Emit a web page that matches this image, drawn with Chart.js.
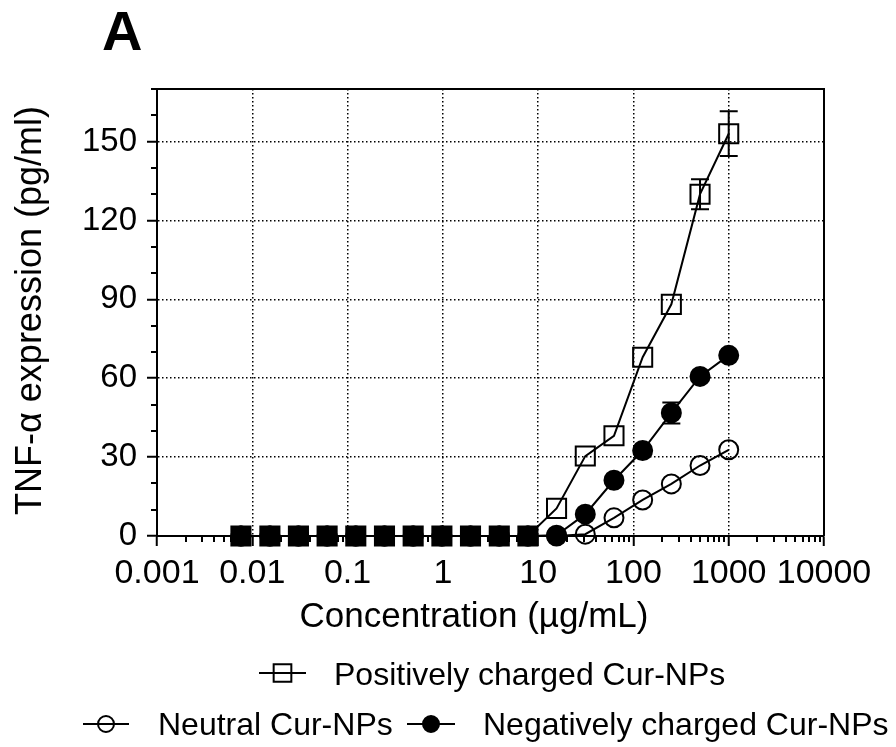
<!DOCTYPE html>
<html>
<head>
<meta charset="utf-8">
<title>TNF-α expression vs concentration</title>
<script src="https://cdn.jsdelivr.net/npm/chart.js@4.4.0/dist/chart.umd.min.js"></script>
<style>
  html, body { margin: 0; padding: 0; background: #fff; }
  #wrap { width: 896px; height: 747px; position: relative; }
</style>
</head>
<body>
<div id="wrap"><canvas id="chart"></canvas></div>
<script>
// Concentrations (µg/mL), two-fold dilutions
const concentrations = [0.0076, 0.0153, 0.0305, 0.061, 0.122, 0.244, 0.488, 0.977, 1.95, 3.91, 7.81, 15.6, 31.25, 62.5, 125, 250, 500, 1000];

// TNF-α (pg/ml)
const positiveValues = [0, 0, 0, 0, 0, 0, 0, 0, 0, 0, 0, 10.5, 30.4, 38.1, 68.0, 88.1, 130, 153];
const positiveErrors = [0, 0, 0, 0, 0, 0, 0, 0, 0, 0, 0, 0, 0, 0, 0, 0, 5.7, 8.5];
const neutralValues = [0, 0, 0, 0, 0, 0, 0, 0, 0, 0, 0, 0, 0.7, 6.9, 13.7, 19.8, 26.8, 32.8];
const neutralErrors = [0, 0, 0, 0, 0, 0, 0, 0, 0, 0, 0, 0, 0, 0, 0, 0, 0, 0];
const negativeValues = [0, 0, 0, 0, 0, 0, 0, 0, 0, 0, 0, 0.3, 8.3, 21.2, 32.5, 46.8, 60.7, 68.7];
const negativeErrors = [0, 0, 0, 0, 0, 0, 0, 0, 0, 0, 0, 0, 0, 0, 0, 4, 0, 0];

const seriesLabels = ['Positively charged Cur-NPs', 'Neutral Cur-NPs', 'Negatively charged Cur-NPs'];

const xTickValues = [0.001, 0.01, 0.1, 1, 10, 100, 1000, 10000];
const xTickLabels = ['0.001', '0.01', '0.1', '1', '10', '100', '1000', '10000'];
const yLabelledTicks = [0, 30, 60, 90, 120, 150];

const FONT = "'Liberation Sans', Arial, sans-serif";

const toPoints = (vals) => vals.map((v, i) => ({ x: concentrations[i], y: v }));

// frame, minor ticks, error bars, titles and the two-row legend
const figureExtras = {
  id: 'figureExtras',
  beforeDatasetsDraw(chart) {
    const { ctx, chartArea: a, scales: { x, y } } = chart;
    ctx.save();
    ctx.strokeStyle = '#000';
    ctx.lineWidth = 2;
    ctx.beginPath();
    ctx.moveTo(a.left - 1, a.top);
    ctx.lineTo(a.right, a.top);
    ctx.lineTo(a.right, a.bottom);
    ctx.stroke();

    // minor ticks
    ctx.beginPath();
    xTickValues.slice(0, -1).forEach(d => {
      for (let m = 2; m <= 9; m++) {
        const px = Math.round(x.getPixelForValue(d * m));
        ctx.moveTo(px, a.bottom);
        ctx.lineTo(px, a.bottom + 6);
      }
    });
    for (let v = 10; v <= y.max; v += 10) {
      if (yLabelledTicks.includes(v)) continue;
      const py = Math.round(y.getPixelForValue(v));
      ctx.moveTo(a.left, py);
      ctx.lineTo(a.left - 6, py);
    }
    ctx.stroke();
    ctx.restore();
  },
  afterDatasetsDraw(chart) {
    const { ctx, scales: { x, y } } = chart;
    const sets = [[positiveValues, positiveErrors], [neutralValues, neutralErrors], [negativeValues, negativeErrors]];
    ctx.save();
    ctx.strokeStyle = '#000';
    ctx.lineWidth = 2;
    sets.forEach(([vals, errs]) => {
      vals.forEach((v, i) => {
        const e = errs[i];
        if (!e) return;
        const px = x.getPixelForValue(concentrations[i]);
        const top = y.getPixelForValue(v + e);
        const bot = y.getPixelForValue(v - e);
        ctx.beginPath();
        ctx.moveTo(px, top); ctx.lineTo(px, bot);
        ctx.moveTo(px - 9, top); ctx.lineTo(px + 9, top);
        ctx.moveTo(px - 9, bot); ctx.lineTo(px + 9, bot);
        ctx.stroke();
      });
    });
    ctx.restore();
  },
  afterDraw(chart) {
    const { ctx, chartArea: a } = chart;
    ctx.save();
    ctx.fillStyle = '#000';

    // panel letter
    ctx.font = 'bold 56px ' + FONT;
    ctx.textAlign = 'left';
    ctx.textBaseline = 'alphabetic';
    ctx.fillText('A', 102, 50);

    // axis titles
    ctx.font = '35px ' + FONT;
    ctx.textAlign = 'center';
    ctx.fillText('Concentration (\u00b5g/mL)', 474, 627);
    ctx.save();
    ctx.translate(41, (a.top + a.bottom) / 2 - 2);
    ctx.rotate(-Math.PI / 2);
    ctx.font = '36px ' + FONT;
    ctx.fillText('TNF-\u03b1 expression (pg/ml)', 0, 0);
    ctx.restore();

    // legend
    const items = [
      { ds: 0, x0: 259, x1: 306, y: 673, tx: 334, ty: 685 },
      { ds: 1, x0: 83, x1: 129, y: 724, tx: 158, ty: 735 },
      { ds: 2, x0: 407, x1: 455, y: 724, tx: 483, ty: 735 }
    ];
    items.forEach(it => {
      const ds = chart.data.datasets[it.ds];
      ctx.strokeStyle = '#000';
      ctx.lineWidth = 2;
      ctx.beginPath();
      ctx.moveTo(it.x0, it.y); ctx.lineTo(it.x1, it.y);
      ctx.stroke();
      ctx.fillStyle = ds.legendFill;
      Chart.helpers.drawPoint(ctx, {
        pointStyle: ds.pointStyle,
        radius: ds.pointStyle === 'rect' ? 12.5 : 8,
        rotation: 0,
        borderWidth: 2
      }, (it.x0 + it.x1) / 2, it.y);
      ctx.fillStyle = '#000';
      ctx.font = '32px ' + FONT;
      ctx.textAlign = 'left';
      ctx.textBaseline = 'alphabetic';
      ctx.fillText(ds.label, it.tx, it.ty);
    });
    ctx.restore();
  }
};

new Chart(document.getElementById('chart'), {
  type: 'line',
  data: {
    datasets: [
      {
        label: seriesLabels[0],
        data: toPoints(positiveValues),
        order: 0,
        borderColor: '#000',
        borderWidth: 2,
        pointStyle: 'rect',
        pointRadius: 13.5,
        pointBorderWidth: 2,
        pointBorderColor: '#000',
        pointBackgroundColor: (c) => (c.raw && c.raw.y === 0 && c.raw.x < 10 ? '#000' : 'rgba(0,0,0,0)'),
        legendFill: 'rgba(0,0,0,0)',
        clip: false
      },
      {
        label: seriesLabels[1],
        data: toPoints(neutralValues),
        order: 2,
        borderColor: '#000',
        borderWidth: 2,
        pointStyle: 'circle',
        pointRadius: 9.5,
        pointBorderWidth: 2,
        pointBorderColor: '#000',
        pointBackgroundColor: 'rgba(0,0,0,0)',
        legendFill: 'rgba(0,0,0,0)',
        clip: false
      },
      {
        label: seriesLabels[2],
        data: toPoints(negativeValues),
        order: 1,
        borderColor: '#000',
        borderWidth: 2,
        pointStyle: 'circle',
        pointRadius: 9.5,
        pointBorderWidth: 2,
        pointBorderColor: '#000',
        pointBackgroundColor: '#000',
        legendFill: '#000',
        clip: false
      }
    ]
  },
  options: {
    responsive: true,
    maintainAspectRatio: false,
    animation: false,
    layout: { padding: { left: 0, top: 89, right: 72, bottom: 0 } },
    plugins: {
      legend: { display: false },
      tooltip: { enabled: false }
    },
    scales: {
      x: {
        type: 'logarithmic',
        min: 0.001,
        max: 10000,
        afterFit(scale) { scale.height = 211; },
        afterBuildTicks(scale) { scale.ticks = xTickValues.map(v => ({ value: v })); },
        ticks: {
          autoSkip: false,
          maxRotation: 0,
          padding: 7,
          color: '#000',
          font: { family: FONT, size: 34 },
          callback: (v, i) => xTickLabels[i]
        },
        grid: {
          color: (c) => (c.tick && c.tick.value > 0.001 && c.tick.value < 10000 ? '#000' : 'rgba(0,0,0,0)'),
          lineWidth: 1.5,
          drawTicks: true,
          tickLength: 10,
          tickWidth: 2,
          tickColor: '#000',
          tickBorderDash: []
        },
        border: { display: true, color: '#000', width: 2, dash: [1.5, 2.5] }
      },
      y: {
        type: 'linear',
        min: 0,
        max: 170,
        afterFit(scale) { scale.width = 157; },
        ticks: {
          stepSize: 10,
          autoSkip: false,
          padding: 10,
          color: '#000',
          font: { family: FONT, size: 33 },
          callback: (v) => (yLabelledTicks.includes(v) ? String(v) : '')
        },
        grid: {
          color: (c) => (c.tick && c.tick.value > 0 && yLabelledTicks.includes(c.tick.value) ? '#000' : 'rgba(0,0,0,0)'),
          lineWidth: 1.5,
          drawTicks: true,
          tickLength: 10,
          tickWidth: 2,
          tickColor: (c) => (c.tick && yLabelledTicks.includes(c.tick.value) ? '#000' : 'rgba(0,0,0,0)'),
          tickBorderDash: []
        },
        border: { display: true, color: '#000', width: 2, dash: [1.5, 2.5] }
      }
    }
  },
  plugins: [figureExtras]
});
</script>
</body>
</html>
